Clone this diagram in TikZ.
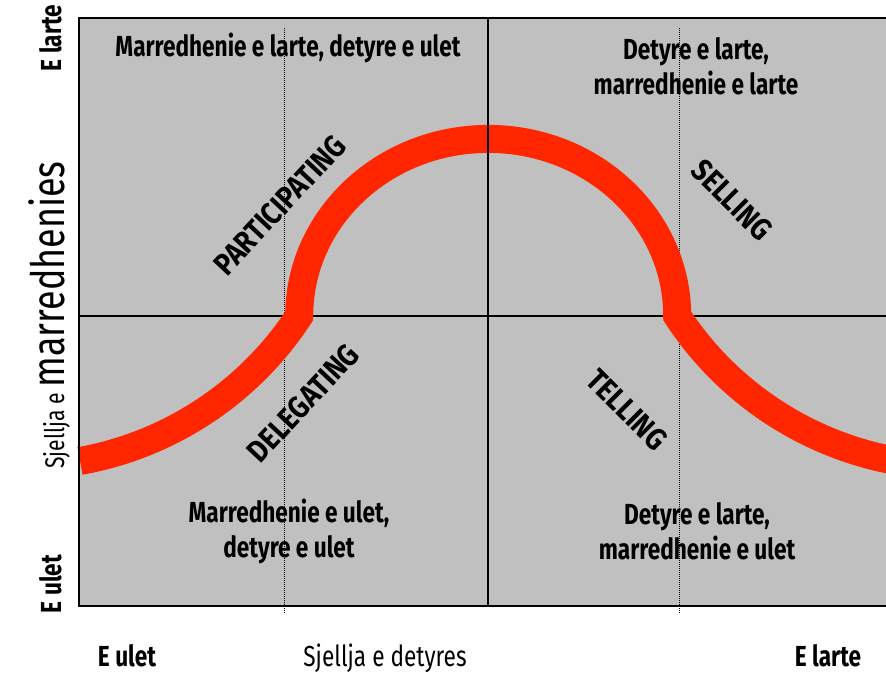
\documentclass[tikz,border=0pt]{standalone}
\usepackage{fontspec}
\setmainfont{Fira Sans}[FakeStretch=0.78]
\newfontfamily\stylefont{Fira Sans}[FakeStretch=0.86]
\usepackage{xcolor}
\usetikzlibrary{positioning}
\definecolor{quadgray}{HTML}{C0C0C0}
\definecolor{curvered}{HTML}{FF2600}
\tikzset{
  quadlabel/.style={font=\bfseries\fontsize{29}{35}\selectfont, align=center, inner sep=0pt},
  stylelabel/.style={font=\stylefont\bfseries\fontsize{31}{34}\selectfont, inner sep=0pt},
  endlabel/.style={font=\bfseries\fontsize{29}{32}\selectfont, inner sep=0pt, anchor=base},
  axislabel/.style={font=\fontsize{29}{34}\selectfont, inner sep=0pt, anchor=base},
  guideline/.style={black, line width=1pt, densely dotted},
  midline/.style={black, line width=1.6pt},
}

\begin{document}
\begin{tikzpicture}[x=1pt, y=1pt]
    \useasboundingbox (0,0) rectangle (886,677);
    \clip (0,0) rectangle (886,677);
    %
    \coordinate (boxSW) at (79,71);
    \coordinate (boxNE) at (892,659);
    \coordinate (centre) at (488,361);
    %
    \fill[quadgray] (boxSW) rectangle (boxNE);
    \draw[midline] (79,361) -- (886,361);
    %
    \node[quadlabel] (labelTL) at (288,629) {Marredhenie e larte, detyre e ulet};
    \node[quadlabel] (labelTR) at (696,611) {Detyre e larte,\\marredhenie e larte};
    \node[quadlabel] (labelBL) at (289,146) {Marredhenie e ulet,\\detyre e ulet};
    \node[quadlabel] (labelBR) at (697,146) {Detyre e larte,\\marredhenie e ulet};
    %
    \node[stylelabel, rotate=47] (styleP) at (280,472) {PARTICIPATING};
    \node[stylelabel, rotate=-45] (styleS) at (732,477) {SELLING};
    \node[stylelabel, rotate=47] (styleD) at (303,274) {DELEGATING};
    \node[stylelabel, rotate=-45] (styleT) at (627,267) {TELLING};
    %
    \node[endlabel, rotate=90] (yHigh) at (61,639) {E larte};
    \node[endlabel, rotate=90] (yLow) at (61,93) {E ulet};
    \node[endlabel] (xLow) at (127,10) {E ulet};
    \node[endlabel] (xHigh) at (828,10) {E larte};
    \node[axislabel] (xTitle) at (385,10) {Sjellja e detyres};
    \node[axislabel, rotate=90] (yTitle) at (64,362) {{\fontsize{27}{30}\selectfont Sjellja e }{\fontsize{46}{50}\selectfont marredhenies}};
    %
    \draw[guideline] (284,649) -- (284,63);
    \draw[guideline] (679,649) -- (679,63);
    %
    \draw[curvered, line width=28pt]
        (80,216) arc[start angle=280.2, end angle=326.8, radius=332.3]
        arc[start angle=180, end angle=0, x radius=189, y radius=177]
        arc[start angle=213.2, end angle=259.8, radius=332.3];
    %
    \draw[midline] (488,71) -- (488,659);
    \draw[black, line width=2pt] (892,71) -| (79,659) -- (892,659);
\end{tikzpicture}
\end{document}
